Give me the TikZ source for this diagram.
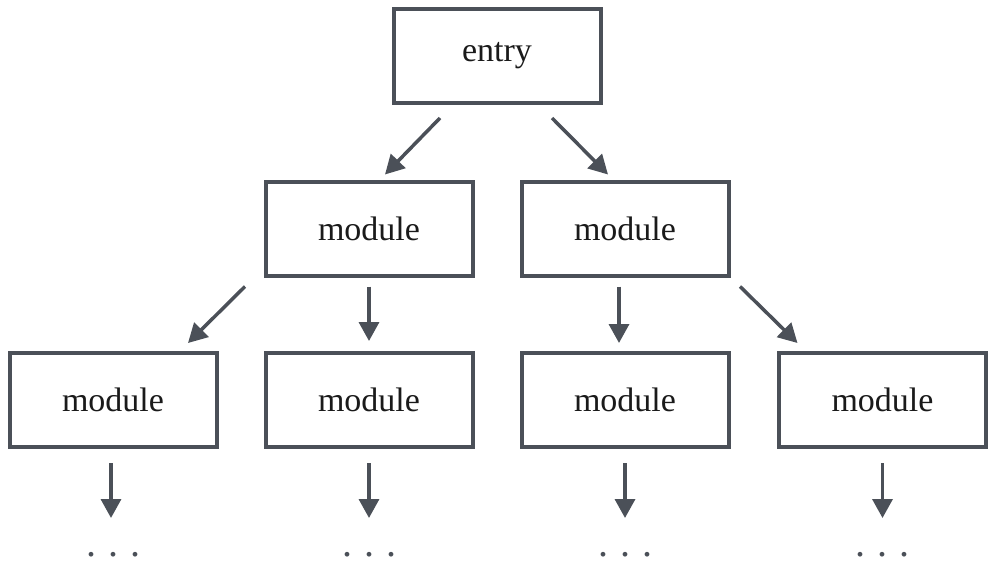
\documentclass[tikz,border=0pt]{standalone}
\usepackage{fontspec}
\setmainfont{Liberation Serif}
\usetikzlibrary{arrows.meta}
\definecolor{edge}{HTML}{4B5058}
\definecolor{txt}{HTML}{1A1A1A}
\begin{document}
\begin{tikzpicture}[x=1pt,y=-1pt,
  box/.style={draw=edge,line width=4pt,fill=white,minimum width=207pt,minimum height=94pt,inner sep=0pt,text=txt,font=\fontsize{34}{40}\selectfont},
  arr/.style={draw=edge,line width=3.5pt,-{Triangle[length=19pt,width=20pt]}},
  dots/.style={text=edge,inner sep=0pt,anchor=base,font=\fontsize{40}{46}\selectfont}]
\useasboundingbox (0,0) rectangle (997,570);
\node[box] (entry) at (497,56) {entry};
\node[box] (m1) at (369,228.5) {module};
\node[box] (m2) at (625,228.5) {module};
\node[box] (m11) at (113,400) {module};
\node[box] (m12) at (369,400) {module};
\node[box] (m21) at (625,400) {module};
\node[box] (m22) at (882.5,400) {module};
\node[dots] (d1) at (113,556) {.\hspace{12pt}.\hspace{12pt}.};
\node[dots] (d2) at (369,556) {.\hspace{12pt}.\hspace{12pt}.};
\node[dots] (d3) at (625,556) {.\hspace{12pt}.\hspace{12pt}.};
\node[dots] (d4) at (882.5,556) {.\hspace{12pt}.\hspace{12pt}.};
% entry to row 2
\draw[arr] ([xshift=-57pt,yshift=-13pt]entry.south) -- ([xshift=16pt,yshift=5pt]m1.north);
\draw[arr] ([xshift=55pt,yshift=-13pt]entry.south) -- ([xshift=-17pt,yshift=5pt]m2.north);
% row 2 to row 3
\draw[arr] ([xshift=-124pt,yshift=-9pt]m1.south) -- ([xshift=75pt,yshift=8pt]m11.north);
\draw[arr] ([yshift=-9pt]m1.south) -- ([yshift=10pt]m12.north);
\draw[arr] ([xshift=-6pt,yshift=-9pt]m2.south) -- ([xshift=-6pt,yshift=8pt]m21.north);
\draw[arr] ([xshift=115pt,yshift=-9pt]m2.south) -- ([xshift=-85pt,yshift=8pt]m22.north);
% row 3 to dots
\draw[arr] ([xshift=-2pt,yshift=-14pt]m11.south) -- ([xshift=-2pt,yshift=-69pt]m11.south);
\draw[arr] ([yshift=-14pt]m12.south) -- ([yshift=-69pt]m12.south);
\draw[arr] ([yshift=-14pt]m21.south) -- ([yshift=-69pt]m21.south);
\draw[arr] ([yshift=-14pt]m22.south) -- ([yshift=-69pt]m22.south);
\end{tikzpicture}
\end{document}
